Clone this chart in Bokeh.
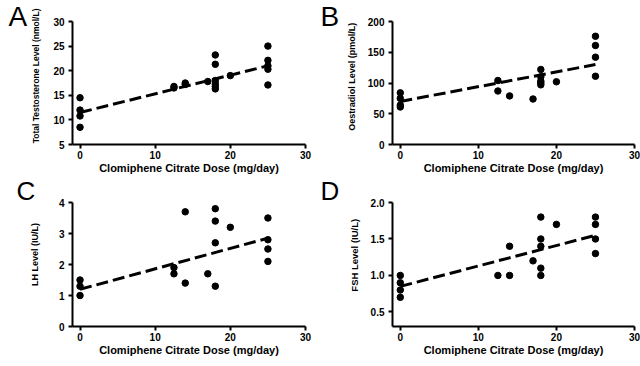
from bokeh.plotting import figure
from bokeh.layouts import gridplot
from bokeh.models import FixedTicker, Range1d
from bokeh.embed import file_html
from bokeh.resources import INLINE

# ---------------- data ----------------
dose_ticks = [0, 10, 20, 30]
x_title = "Clomiphene Citrate Dose (mg/day)"

a_dose = [0, 0, 0, 0, 12.5, 12.5, 14, 14, 17, 18, 18, 18, 18, 18, 18, 20, 25, 25, 25, 25, 25]
a_val = [14.5, 12.0, 10.8, 8.5, 16.5, 16.8, 17.5, 17.2, 17.8, 23.2, 21.3, 18.0, 17.3, 16.8, 16.3,
         19.0, 25.0, 22.1, 21.0, 20.3, 17.1]
a_fit_x = [0, 25]
a_fit_y = [11.5, 21.0]
a_ticks = [5, 10, 15, 20, 25, 30]
a_title = "Total Testosterone Level (nmol/L)"

b_dose = [0, 0, 0, 0, 12.5, 12.5, 14, 17, 18, 18, 18, 18, 18, 20, 25, 25, 25, 25]
b_val = [84, 75, 64, 61, 104, 87, 79, 74, 122, 110, 103, 100, 97, 102, 176, 161, 142, 111]
b_fit_x = [0, 25]
b_fit_y = [70, 130]
b_ticks = [0, 50, 100, 150, 200]
b_title = "Oestradiol Level (pmol/L)"

c_dose = [0, 0, 0, 12.5, 12.5, 14, 14, 17, 18, 18, 18, 18, 20, 25, 25, 25, 25]
c_val = [1.5, 1.3, 1.0, 1.9, 1.7, 3.7, 1.4, 1.7, 3.8, 3.4, 2.7, 1.3, 3.2, 3.5, 2.8, 2.5, 2.1]
c_fit_x = [0, 25]
c_fit_y = [1.2, 2.85]
c_ticks = [0, 1, 2, 3, 4]
c_title = "LH Level (IU/L)"

d_dose = [0, 0, 0, 0, 12.5, 14, 14, 17, 18, 18, 18, 18, 18, 20, 25, 25, 25, 25]
d_val = [1.0, 0.9, 0.8, 0.7, 1.0, 1.4, 1.0, 1.2, 1.8, 1.5, 1.4, 1.1, 1.0, 1.7, 1.8, 1.7, 1.5, 1.3]
d_fit_x = [0, 25]
d_fit_y = [0.85, 1.55]
d_ticks = [0.5, 1.0, 1.5, 2.0]
d_title = "FSH Level  (IU/L)"

FONT = "Liberation Sans"
NBSP = "\u00a0"


def make_panel(letter, xs, ys, fx, fy, yticks, ytitle, yr, size, borders, ylab_size,
               ylab_standoff, ylab_shift, letter_size, letter_offset, letter_standoff):
    left, right, top, bottom = borders
    p = figure(width=size[0], height=size[1], output_backend="svg", toolbar_location=None,
               x_range=Range1d(-1, 30), y_range=Range1d(*yr),
               min_border_left=left, min_border_right=right,
               min_border_top=top, min_border_bottom=bottom)
    p.outline_line_color = None
    p.grid.visible = False
    p.background_fill_color = "white"
    p.border_fill_color = "white"

    p.xaxis.ticker = FixedTicker(ticks=dose_ticks)
    p.yaxis.ticker = FixedTicker(ticks=yticks)
    if isinstance(yticks[0], float):
        p.yaxis.major_label_overrides = {t: f"{t:.1f}" for t in yticks}
    for ax in (p.xaxis, p.yaxis):
        ax.axis_line_width = 2
        ax.axis_line_color = "black"
        ax.major_tick_line_width = 2
        ax.major_tick_line_color = "black"
        ax.major_tick_out = 4
        ax.major_tick_in = 0
        ax.minor_tick_line_color = None
        ax.major_label_text_font = FONT
        ax.major_label_text_font_style = "bold"
        ax.major_label_text_font_size = "10px"
        ax.major_label_text_color = "black"
        ax.axis_label_text_font = FONT
        ax.axis_label_text_font_style = "bold"
        ax.axis_label_text_color = "black"
    p.xaxis.axis_label = x_title
    p.xaxis.axis_label_text_font_size = "11px"
    p.xaxis.major_label_standoff = 2
    p.xaxis.axis_label_standoff = 0
    # leading no-break spaces nudge the rotated label upwards, as in the original
    p.yaxis.axis_label = NBSP * ylab_shift + ytitle
    p.yaxis.axis_label_text_font_size = ylab_size
    p.yaxis.major_label_standoff = 4
    p.yaxis.axis_label_standoff = ylab_standoff

    p.line(fx, fy, line_color="black", line_width=3, line_dash="12 5")
    p.scatter(xs, ys, size=6.5, color="black")

    # panel letter as a (non-clipped) title
    p.title.text = letter
    p.title.text_font = FONT
    p.title.text_font_style = "normal"
    p.title.text_font_size = letter_size
    p.title.text_color = "black"
    p.title.align = "left"
    p.title.vertical_align = "bottom"
    p.title.offset = letter_offset
    p.title.standoff = letter_standoff
    return p


top_size = (320, 176)
bot_size = (320, 190)

pa = make_panel("A", a_dose, a_val, a_fit_x, a_fit_y, a_ticks, a_title, (5, 30), top_size,
                (72, 14, 21, 31), "8.5px", 9, 6, "28px", -64, -20)
pb = make_panel("B", b_dose, b_val, b_fit_x, b_fit_y, b_ticks, b_title, (0, 200), top_size,
                (72, 6, 21, 31), "9px", 8, 5, "28px", -72, -20)
pc = make_panel("C", c_dose, c_val, c_fit_x, c_fit_y, c_ticks, c_title, (0, 4), bot_size,
                (64, 15, 24, 40), "9px", 16, 8, "26px", -56, -6)
pd = make_panel("D", d_dose, d_val, d_fit_x, d_fit_y, d_ticks, d_title, (0.3, 2.0), bot_size,
                (72, 6, 24, 36), "9.5px", 8, 8, "26px", -72, -6)

grid = gridplot([[pa, pb], [pc, pd]], toolbar_location=None)

open("out.html", "w").write(file_html(grid, INLINE))
